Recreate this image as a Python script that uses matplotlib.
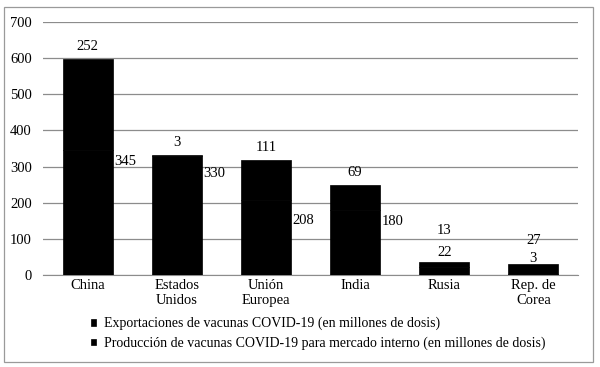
import numpy as np
import matplotlib.pyplot as plt
from matplotlib.patches import Rectangle

# datos (millones de dosis)
paises = ["China", "Estados\nUnidos", "Unión\nEuropea", "India", "Rusia", "Rep. de\nCorea"]
exportaciones = [252, 3, 111, 69, 13, 27]
interno = [345, 330, 208, 180, 22, 3]

plt.rcParams['font.family'] = ['Liberation Serif', 'DejaVu Serif']
fs = 10.5

fig = plt.figure(figsize=(6, 3.67), dpi=100)
ax = fig.add_axes([0.0717, 0.2507, 0.8916, 0.6893])

x = np.arange(len(paises))
w = 0.56
b1 = ax.bar(x, interno, w, color='black', edgecolor='black', linewidth=0.5, zorder=3)
b2 = ax.bar(x, exportaciones, w, bottom=interno, color='black', edgecolor='black',
            linewidth=0.5, zorder=3)

# etiquetas
tot = np.array(exportaciones) + np.array(interno)
off_exp = [9, 9, 9, 9, 23, 17]
for i in range(len(paises)):
    ax.annotate(str(exportaciones[i]), (x[i], tot[i]), xytext=(0, off_exp[i]),
                textcoords='offset points', ha='center', va='center', fontsize=fs)
# posiciones de las etiquetas del mercado interno
dom_y = [313, 280, 150, 147, 61, 47]
for i in range(len(paises)):
    if tot[i] > 100:
        ax.text(x[i] + w / 2 + 0.02, dom_y[i], str(interno[i]), ha='left', va='center', fontsize=fs)
    else:
        ax.text(x[i], dom_y[i], str(interno[i]), ha='center', va='center', fontsize=fs)

ax.set_xlim(-0.5, len(paises) - 0.5)
ax.set_ylim(0, 700)
ax.set_yticks(range(0, 701, 100))
ax.yaxis.grid(True, color='#8c8c8c', linewidth=0.9, zorder=0)
ax.tick_params(axis='both', length=0, labelsize=fs)
ax.tick_params(axis='y', pad=8)
ax.tick_params(axis='x', pad=3)
ax.set_xticks(x)
ax.set_xticklabels(paises, linespacing=1.15)
for s in ['left', 'right', 'top']:
    ax.spines[s].set_visible(False)
ax.spines['bottom'].set_color('#8c8c8c')

fig.legend([b2, b1],
           ["Exportaciones de vacunas COVID-19 (en millones de dosis)",
            "Producción de vacunas COVID-19 para mercado interno (en millones de dosis)"],
           loc='center', bbox_to_anchor=(0.53, 0.091), frameon=False, fontsize=10,
           handlelength=0.35, handleheight=0.35, handletextpad=0.6, labelspacing=0.45)

fig.patches.append(Rectangle((4 / 600, 1 - 362 / 367), 589 / 600, 355 / 367,
                             transform=fig.transFigure, fill=False,
                             edgecolor='#9a9a9a', linewidth=0.9))

fig.savefig('out.png', dpi=100)
